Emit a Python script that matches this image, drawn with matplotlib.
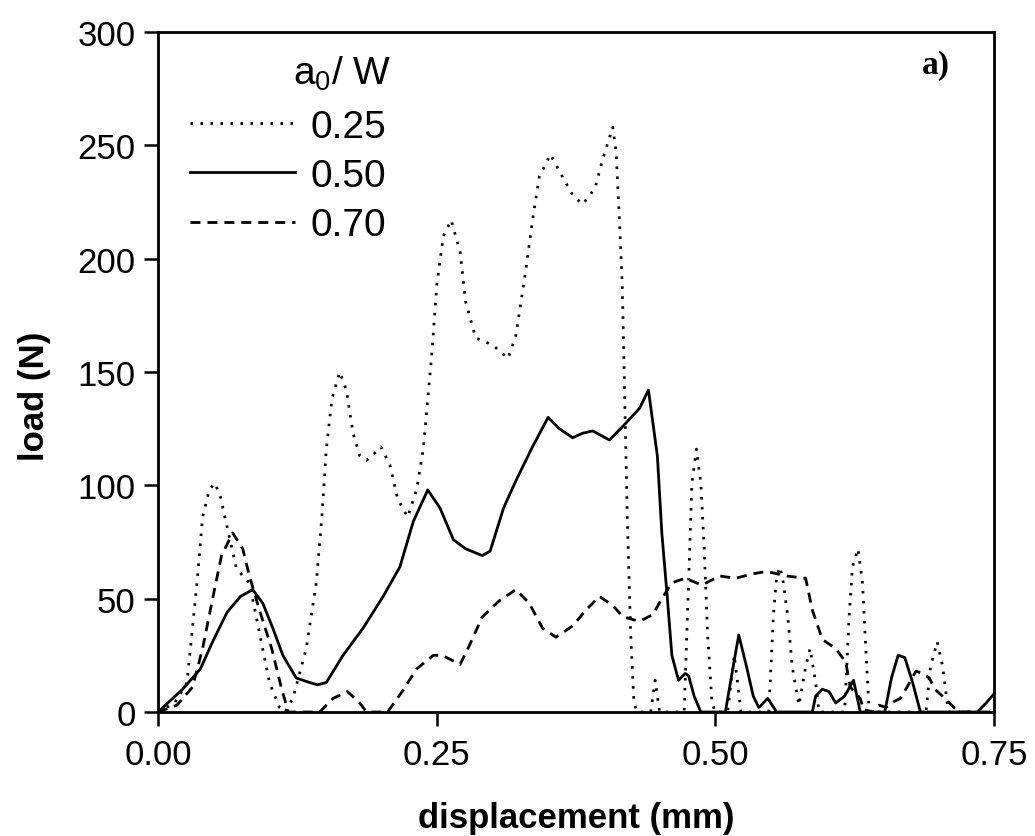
import matplotlib
matplotlib.use("Agg")
import matplotlib.pyplot as plt

plt.rcParams["font.family"] = ["Liberation Sans", "DejaVu Sans"]
plt.rcParams["mathtext.fontset"] = "custom"
plt.rcParams["mathtext.rm"] = "Liberation Sans"

# a0/W = 0.25 (dotted)
x25 = [0.000, 0.015, 0.026, 0.035, 0.040, 0.046, 0.051, 0.056, 0.060, 0.070, 0.076, 0.082,
       0.091, 0.100, 0.109, 0.114, 0.121, 0.133, 0.142, 0.147, 0.151, 0.156, 0.163, 0.169,
       0.175, 0.181, 0.187, 0.194, 0.200, 0.208, 0.215, 0.224, 0.232, 0.238, 0.242, 0.246,
       0.250, 0.256, 0.263, 0.271, 0.276, 0.285, 0.300, 0.314, 0.321, 0.330, 0.336, 0.342,
       0.352, 0.363, 0.372, 0.381, 0.392, 0.399, 0.408, 0.411, 0.414, 0.4165, 0.418, 0.421,
       0.424, 0.427, 0.430, 0.442, 0.446, 0.450, 0.472, 0.476, 0.479, 0.483, 0.487, 0.490,
       0.493, 0.497, 0.500, 0.511, 0.517, 0.523, 0.548, 0.552, 0.555, 0.558, 0.561, 0.565,
       0.569, 0.575, 0.581, 0.585, 0.590, 0.593, 0.616, 0.620, 0.623, 0.628, 0.632, 0.635,
       0.638, 0.689, 0.693, 0.699, 0.704, 0.709, 0.750]
y25 = [0, 4, 13, 57, 86, 98, 101, 95, 86, 64, 60, 57,
       35, 13, 2, 0, 6, 28, 57, 86, 116, 138, 150, 142,
       123, 113, 111, 114, 117, 109, 94, 86, 98, 116, 138, 160,
       188, 210, 217, 203, 181, 165, 162, 156, 166, 195, 217, 236,
       246, 236, 228, 224, 231, 244, 258, 247, 217, 188, 155, 86,
       35, 4, 0, 0, 14, 0, 0, 57, 101, 116, 101, 72,
       35, 4, 0, 0, 25, 0, 0, 42, 60, 64, 57, 42,
       20, 3, 20, 28, 13, 0, 0, 42, 64, 72, 57, 28,
       0, 0, 20, 31, 20, 0, 0]

# a0/W = 0.50 (solid)
x50 = [0.000, 0.022, 0.038, 0.049, 0.062, 0.074, 0.085, 0.094, 0.103, 0.112, 0.124, 0.136,
       0.143, 0.151, 0.166, 0.184, 0.202, 0.217, 0.229, 0.242, 0.253, 0.265, 0.276, 0.291,
       0.298, 0.310, 0.322, 0.336, 0.350, 0.360, 0.372, 0.381, 0.390, 0.405, 0.417, 0.432,
       0.440, 0.448, 0.452, 0.457, 0.461, 0.467, 0.473, 0.476, 0.481, 0.487, 0.509, 0.516,
       0.521, 0.528, 0.534, 0.539, 0.547, 0.555, 0.587, 0.590, 0.596, 0.602, 0.608, 0.616,
       0.624, 0.630, 0.652, 0.658, 0.664, 0.670, 0.677, 0.684, 0.735, 0.743, 0.750]
y50 = [0, 10, 19, 31, 44, 51, 54, 48, 37, 25, 15, 13,
       12, 13, 25, 37, 51, 64, 84, 98, 90, 76, 72, 69,
       71, 90, 103, 117, 130, 125, 121, 123, 124, 120, 126, 134,
       142, 113, 79, 50, 25, 14, 17, 16, 7, 0, 0, 20,
       34, 20, 7, 2, 6, 0, 0, 7, 10, 9, 4, 7,
       14, 0, 0, 15, 25, 24, 13, 0, 0, 4, 8]

# a0/W = 0.70 (dashed)
x70 = [0.000, 0.017, 0.031, 0.040, 0.049, 0.057, 0.067, 0.076, 0.082, 0.091, 0.102, 0.111,
       0.117, 0.145, 0.157, 0.170, 0.181, 0.187, 0.206, 0.219, 0.232, 0.247, 0.255, 0.271,
       0.279, 0.291, 0.306, 0.321, 0.333, 0.345, 0.357, 0.372, 0.384, 0.396, 0.408, 0.417,
       0.432, 0.444, 0.452, 0.461, 0.473, 0.488, 0.504, 0.518, 0.534, 0.546, 0.564, 0.581,
       0.587, 0.596, 0.608, 0.617, 0.621, 0.630, 0.633, 0.642, 0.647, 0.653, 0.658, 0.666,
       0.672, 0.680, 0.686, 0.692, 0.697, 0.706, 0.714, 0.720, 0.750]
y70 = [0, 3, 11, 28, 50, 69, 79, 72, 60, 45, 28, 10,
       0, 0, 6, 9, 4, 0, 0, 9, 19, 25, 25, 21,
       29, 42, 49, 54, 48, 37, 33, 38, 45, 51, 47, 42,
       40, 43, 50, 57, 59, 56, 60, 59, 61, 62, 60, 59,
       45, 32, 28, 22, 11, 6, 1, 0, 3, 2, 4, 6,
       11, 18, 17, 15, 10, 6, 2, 0, 0]

fig = plt.figure(figsize=(10.35, 8.37), dpi=100)
ax = fig.add_axes([158 / 1035, 1 - 713 / 837, (994 - 158) / 1035, (713 - 33) / 837])

lw = 2.0
ax.plot(x25, y25, color="black", lw=lw, ls=(0, (0.9, 2.7)), label="0.25")
ax.plot(x50, y50, color="black", lw=lw, ls="-", label="0.50")
ax.plot(x70, y70, color="black", lw=lw, ls=(0, (3.6, 2.5)), label="0.70")

ax.set_xlim(0, 0.75)
ax.set_ylim(0, 300)
ax.set_xticks([0, 0.25, 0.5, 0.75])
ax.set_xticklabels(["0.00", "0.25", "0.50", "0.75"])
ax.set_yticks([0, 50, 100, 150, 200, 250, 300])

for s in ax.spines.values():
    s.set_linewidth(2.0)
ax.tick_params(axis="both", direction="out", length=10, width=1.8, labelsize=25)
ax.tick_params(axis="x", pad=9)
ax.tick_params(axis="y", pad=6)

ax.set_xlabel("displacement (mm)", fontsize=25, fontweight="bold", labelpad=21)
ax.set_ylabel("load (N)", fontsize=25, fontweight="bold")
ax.yaxis.set_label_coords(-0.128, 0.465)

ax.legend(loc="upper left", bbox_to_anchor=(0.02, 0.91), frameon=False,
          fontsize=28, handlelength=2.7, handletextpad=0.4, labelspacing=0.34,
          borderaxespad=0)
ax.text(0.1615, 0.9235, "a$_\\mathregular{0}$/ W", transform=ax.transAxes,
        fontsize=28, ha="left", va="baseline")

ax.text(0.947, 0.975, "a)", transform=ax.transAxes, fontsize=24, fontweight="bold",
        family="Liberation Serif", ha="right", va="top")

fig.savefig("out.png", dpi=100)
